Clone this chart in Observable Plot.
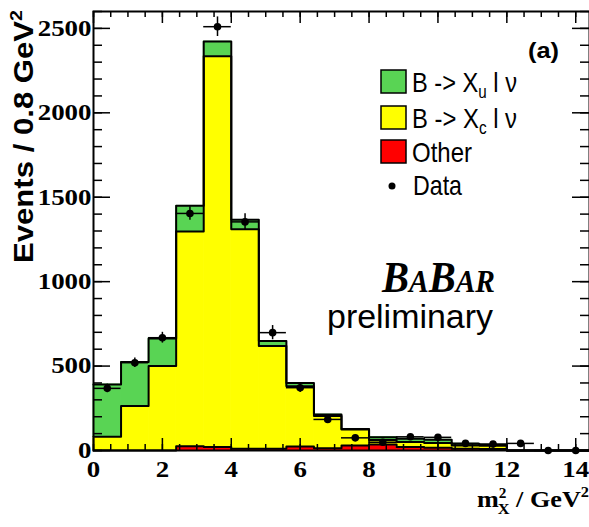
<!DOCTYPE html>
<html><head><meta charset="utf-8">
<script src="https://cdn.jsdelivr.net/npm/d3@7"></script>
<script src="https://cdn.jsdelivr.net/npm/@observablehq/plot@0.6"></script>
<style>body{margin:0;background:#fff} svg{display:block}</style>
</head><body><div id="chart"></div>
<script>
// ---- data ----
const binLow = [0,0.8,1.6,2.4,3.2,4.0,4.8,5.6,6.4,7.2,8.0,8.8,9.6,10.4,11.2,12.0,12.8,13.6];
const binWidth = 0.8;
const otherVals = [0,0,0,25,20,10,10,24,14,30,35,20,16,10,9,0,0,0];
const xcVals    = [81,263,500,1272,2315,1301,609,356,191,94,27,30,28,20,19,0,0,0];
const xuVals    = [310,261,164,152,87,55,29,20,8,4,17,20,20,10,6,0,0,0];
const dataX     = [0.4,1.2,2.0,2.8,3.6,4.4,5.2,6.0,6.8,7.6,8.4,9.2,10.0,10.8,11.6,12.4,13.2,14.0];
const dataY     = [368,520,668,1404,2510,1354,698,372,184,75,49,81,78,42,38,42,0,0];
const dataErr   = [25,28,32,40,58,48,42,28,20,15,12,12,12,10,10,10,0,0];
const xTickLabels = [0,2,4,6,8,10,12,14];
const yTickLabels = [0,500,1000,1500,2000,2500];
const legendLabels = ["Other","Data"];
const colors = {xu:"#59d454", xc:"#ffff00", other:"#ff0000"};

// ---- layout ----
const W = 589, H = 527, mL = 93, mR = 0, mT = 11, mB = 77;
const pW = W - mL - mR, pH = H - mT - mB;

// stacked rectangles
const rects = [];
binLow.forEach((lo, i) => {
  let base = 0;
  [["other", otherVals], ["xc", xcVals], ["xu", xuVals]].forEach(([k, arr]) => {
    rects.push({x1: lo, x2: lo + binWidth, y1: base, y2: base + arr[i], comp: k});
    base += arr[i];
  });
});
const topOther = otherVals;
const topXc = otherVals.map((v, i) => v + xcVals[i]);
const topAll = topXc.map((v, i) => v + xuVals[i]);
function stepPts(tops) {
  const pts = binLow.map((lo, i) => ({x: lo, y: tops[i]}));
  pts.push({x: binLow[binLow.length - 1] + binWidth, y: tops[tops.length - 1]});
  return pts;
}
const pts = dataX.map((x, i) => ({x, y: dataY[i], e: dataErr[i]}));

const xMinor = d3.range(0, 14.41, 0.5);
const xMajor = d3.range(0, 14.41, 2);
const yMinor = d3.range(0, 2601, 100);
const yMajor = d3.range(0, 2601, 500);

const serif = "Liberation Serif, Times New Roman, serif";
const sans = "Liberation Sans, Arial, Helvetica, sans-serif";

function layer(comp) {
  return Plot.rect(rects.filter(d => d.comp === comp && d.y2 > d.y1),
    {x1: "x1", x2: "x2", y1: "y1", y2: "y2", fill: colors[comp], stroke: colors[comp], strokeWidth: 0.8});
}

const plot = Plot.plot({
  width: W, height: H,
  marginLeft: mL, marginRight: mR, marginTop: mT, marginBottom: mB,
  x: {domain: [0, 14.4], axis: null},
  y: {domain: [0, 2600], axis: null},
  style: {background: "#fff"},
  marks: [
    layer("other"), layer("xc"), layer("xu"),
    Plot.line(stepPts(topOther), {x: "x", y: "y", curve: "step-after", stroke: "black", strokeWidth: 2}),
    Plot.line(stepPts(topXc), {x: "x", y: "y", curve: "step-after", stroke: "black", strokeWidth: 2}),
    Plot.line(stepPts(topAll), {x: "x", y: "y", curve: "step-after", stroke: "black", strokeWidth: 2}),
    // ticks
    Plot.tickX(xMinor, {x: d => d, insetTop: pH - 6, stroke: "black", strokeWidth: 1.5}),
    Plot.tickX(xMajor, {x: d => d, insetTop: pH - 12, stroke: "black", strokeWidth: 1.5}),
    Plot.tickX(xMinor, {x: d => d, insetBottom: pH - 6, stroke: "black", strokeWidth: 1.5}),
    Plot.tickX(xMajor, {x: d => d, insetBottom: pH - 12, stroke: "black", strokeWidth: 1.5}),
    Plot.tickY(yMinor, {y: d => d, insetRight: pW - 9, stroke: "black", strokeWidth: 1.5}),
    Plot.tickY(yMajor, {y: d => d, insetRight: pW - 17, stroke: "black", strokeWidth: 1.5}),
    Plot.tickY(yMinor, {y: d => d, insetLeft: pW - 9, stroke: "black", strokeWidth: 1.5}),
    Plot.tickY(yMajor, {y: d => d, insetLeft: pW - 17, stroke: "black", strokeWidth: 1.5}),
    // data with error bars
    Plot.ruleY(pts, {x1: d => d.x - binWidth / 2, x2: d => d.x + binWidth / 2, y: "y", stroke: "black", strokeWidth: 1.5}),
    Plot.ruleX(pts, {x: "x", y1: d => d.y - d.e, y2: d => d.y + d.e, stroke: "black", strokeWidth: 1.5}),
    Plot.dot(pts, {x: "x", y: "y", r: 3.8, fill: "black"}),
    Plot.frame({stroke: "black", strokeWidth: 2}),
    // tick labels
    Plot.text(xTickLabels, {x: d => d, y: 0, dy: 19, text: d => String(d), fontSize: 23, fontWeight: "bold", fontFamily: serif, fill: "black", className: "xtl"}),
    Plot.text(yTickLabels, {x: 0, y: d => d, dx: -2, text: d => String(d), textAnchor: "end", fontSize: 23, fontWeight: "bold", fontFamily: serif, fill: "black", className: "ytl"})
  ]
});
document.getElementById("chart").appendChild(plot);

// stretch tick labels horizontally like the reference
d3.select(plot).selectAll(".ytl text, .xtl text").each(function() {
  const len = this.getComputedTextLength();
  d3.select(this).attr("textLength", len * 1.17).attr("lengthAdjust", "spacingAndGlyphs");
});

const svg = d3.select(plot);
const g = svg.append("g").attr("text-anchor", "start");

// y axis title
const yt = g.append("text")
  .attr("transform", "translate(33,263) rotate(-90)")
  .attr("font-family", sans).attr("font-weight", "bold").attr("font-size", 27).attr("fill", "black")
  .attr("textLength", 253).attr("lengthAdjust", "spacingAndGlyphs");
yt.append("tspan").text("Events / 0.8 GeV");
yt.append("tspan").attr("font-size", 17).attr("dy", -11).text("2");

// x axis title
const xt = g.append("text")
  .attr("x", 477).attr("y", 507)
  .attr("font-family", serif).attr("font-weight", "bold").attr("font-size", 24).attr("fill", "black")
  .attr("textLength", 112).attr("lengthAdjust", "spacingAndGlyphs");
xt.append("tspan").text("m");
xt.append("tspan").attr("font-size", 14).attr("dy", -9).text("2");
xt.append("tspan").attr("font-size", 15).attr("dx", -8).attr("dy", 16).text("X");
xt.append("tspan").attr("dy", -7).text(" / GeV");
xt.append("tspan").attr("font-size", 15).attr("dy", -10).text("2");

// "(a)"
g.append("text").attr("x", 528).attr("y", 58)
  .attr("font-family", sans).attr("font-weight", "bold").attr("font-size", 22).attr("fill", "black")
  .attr("textLength", 31).attr("lengthAdjust", "spacingAndGlyphs").text("(a)");

// legend
const leg = [
  {y: 70, fill: colors.xu, main: "B -> X", sub: "u", tail: " l ν"},
  {y: 106, fill: colors.xc, main: "B -> X", sub: "c", tail: " l ν"},
  {y: 140, fill: colors.other, main: legendLabels[0]}
];
leg.forEach(d => {
  g.append("rect").attr("x", 381).attr("y", d.y).attr("width", 25).attr("height", 23)
    .attr("fill", d.fill).attr("stroke", "black").attr("stroke-width", 1.5);
  const t = g.append("text").attr("x", 412).attr("y", d.y + 22)
    .attr("font-family", sans).attr("font-size", 28).attr("fill", "black")
    .attr("lengthAdjust", "spacingAndGlyphs");
  t.append("tspan").text(d.main);
  if (d.sub) {
    t.append("tspan").attr("font-size", 18).attr("dy", 6).text(d.sub);
    t.append("tspan").attr("dy", -6).text(d.tail);
    t.attr("textLength", 105);
  } else {
    t.attr("textLength", 60);
  }
});
g.append("circle").attr("cx", 392).attr("cy", 186).attr("r", 3.5).attr("fill", "black");
g.append("text").attr("x", 413).attr("y", 195)
  .attr("font-family", sans).attr("font-size", 28).attr("fill", "black")
  .attr("textLength", 49).attr("lengthAdjust", "spacingAndGlyphs").text(legendLabels[1]);

// BaBar preliminary
const bb = g.append("text").attr("x", 382).attr("y", 292)
  .attr("font-family", serif).attr("font-style", "italic").attr("font-weight", "bold").attr("fill", "black")
  .attr("textLength", 113).attr("lengthAdjust", "spacingAndGlyphs");
bb.append("tspan").attr("font-size", 44).text("B");
bb.append("tspan").attr("font-size", 32).text("A");
bb.append("tspan").attr("font-size", 44).text("B");
bb.append("tspan").attr("font-size", 32).text("AR");
g.append("text").attr("x", 327).attr("y", 328)
  .attr("font-family", sans).attr("font-size", 33).attr("fill", "black")
  .attr("textLength", 166).attr("lengthAdjust", "spacingAndGlyphs").text("preliminary");
</script>
</body></html>
